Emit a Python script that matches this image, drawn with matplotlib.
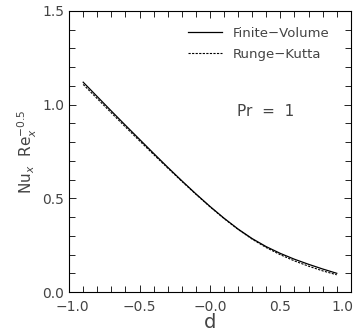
import matplotlib
matplotlib.use('Agg')
from matplotlib import pyplot as plt
from matplotlib.ticker import MultipleLocator
from matplotlib.transforms import ScaledTranslation

# d values
d = [-0.9, -0.8, -0.7, -0.6, -0.5, -0.4, -0.3, -0.2, -0.1, 0.0,
     0.1, 0.2, 0.3, 0.4, 0.5, 0.6, 0.7, 0.8, 0.9]

# Nu_x Re_x^-0.5
finite_volume = [1.120, 1.043, 0.966, 0.890, 0.815, 0.740, 0.666, 0.594, 0.524, 0.457,
                 0.394, 0.336, 0.285, 0.242, 0.206, 0.175, 0.148, 0.123, 0.100]
runge_kutta = [1.108, 1.032, 0.956, 0.881, 0.807, 0.734, 0.662, 0.591, 0.522, 0.455,
               0.392, 0.334, 0.282, 0.237, 0.199, 0.166, 0.138, 0.113, 0.092]

xticks = [-1.0, -0.5, 0.0, 0.5, 1.0]
xtick_labels = ['\u22121.0', '\u22120.5', '\u22120.0', '0.5', '1.0']
yticks = [0.0, 0.5, 1.0, 1.5]
ytick_labels = ['0.0', '0.5', '1.0', '1.5']

txt = '#444444'
plt.rcParams['font.family'] = 'DejaVu Sans'

fig = plt.figure(figsize=(3.58, 3.33), dpi=100)
ax = fig.add_axes([0.193, 0.123, 0.787, 0.844])

ax.plot(d, finite_volume, color='black', lw=0.9, label='Finite\u2212Volume')
ax.plot(d, runge_kutta, color='black', lw=0.8, ls=(0, (2, 1.2)), label='Runge\u2212Kutta')

ax.set_xlim(-1.0, 1.0)
ax.set_ylim(0.0, 1.5)
ax.set_xticks(xticks)
ax.set_xticklabels(xtick_labels)
ax.set_yticks(yticks)
ax.set_yticklabels(ytick_labels)
ax.xaxis.set_minor_locator(MultipleLocator(0.1))
ax.yaxis.set_minor_locator(MultipleLocator(0.1))
ax.tick_params(which='both', direction='in', top=True, right=True,
               width=0.6, colors='black', labelcolor=txt, labelsize=10)
ax.tick_params(which='major', length=5)
ax.tick_params(which='minor', length=4)
ax.tick_params(axis='x', pad=6)
for s in ax.spines.values():
    s.set_linewidth(0.8)

# nudge the outer x labels like the original
xl = ax.get_xticklabels()
xl[0].set_transform(xl[0].get_transform() + ScaledTranslation(2 / 72, 0, fig.dpi_scale_trans))
xl[-1].set_transform(xl[-1].get_transform() + ScaledTranslation(-6 / 72, 0, fig.dpi_scale_trans))

ax.set_xlabel('d', fontsize=14, color=txt, labelpad=-1)
ax.set_ylabel(r'Nu$_x$  Re$_x^{-0.5}$', fontsize=11, color=txt, labelpad=2)

leg = ax.legend(loc='upper left', bbox_to_anchor=(0.38, 0.985), frameon=False,
                handlelength=2.6, handletextpad=0.8, labelspacing=0.6,
                fontsize=9.5, labelcolor=txt)

ax.text(0.595, 0.625, 'Pr  =  1', transform=ax.transAxes, fontsize=11, color=txt)

fig.savefig('out.png', dpi=100)
